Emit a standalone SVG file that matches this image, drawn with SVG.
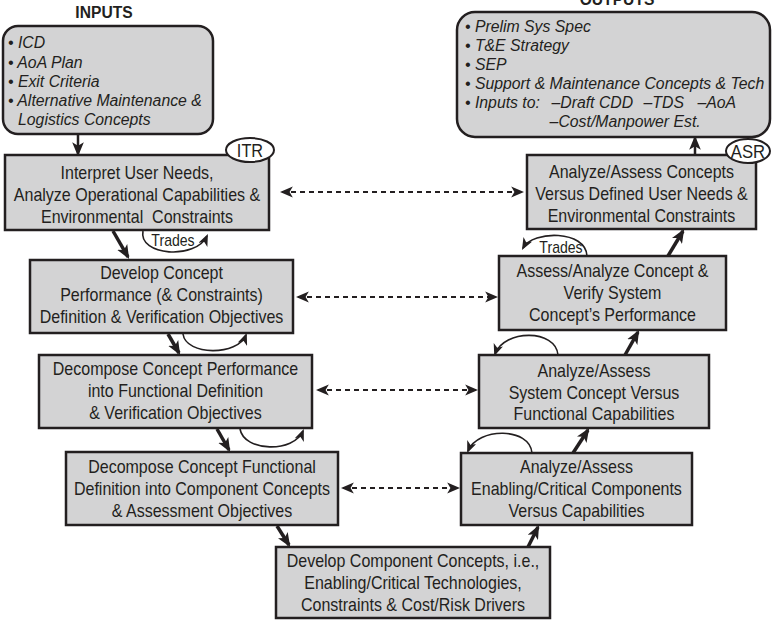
<svg xmlns="http://www.w3.org/2000/svg" width="772" height="621" viewBox="0 0 772 621">
<style>
.box{fill:#d3d3d4;stroke:#231f20;stroke-width:2.5}
.rbox{fill:#d3d3d4;stroke:#231f20;stroke-width:2.5}
.t{font-family:"Liberation Sans",Arial,sans-serif;font-size:18px;fill:#231f20;text-anchor:middle}
.it{font-family:"Liberation Sans",Arial,sans-serif;font-size:17px;font-style:italic;fill:#231f20}
.ttl{font-family:"Liberation Sans",Arial,sans-serif;font-size:17px;font-weight:bold;fill:#231f20;text-anchor:middle}
.sm{font-family:"Liberation Sans",Arial,sans-serif;font-size:16px;fill:#231f20;text-anchor:middle}
.lb{font-family:"Liberation Sans",Arial,sans-serif;font-size:19px;fill:#231f20;text-anchor:middle}
.thick{fill:none;stroke:#231f20;stroke-width:3.5;marker-end:url(#ah)}
.thin{fill:none;stroke:#231f20;stroke-width:1.6;marker-end:url(#ahs)}
.dash{fill:none;stroke:#231f20;stroke-width:2;stroke-dasharray:5 4;marker-start:url(#ahst);marker-end:url(#ahd)}
.ell{fill:#fff;stroke:#231f20;stroke-width:2}
</style>
<defs>
<marker id="ah" markerUnits="userSpaceOnUse" markerWidth="14" markerHeight="12" refX="10" refY="5" orient="auto" viewBox="0 0 12 10">
<path d="M0,0 L12,5 L0,10 L3,5 z" fill="#231f20"/>
</marker>
<marker id="ahs" markerUnits="userSpaceOnUse" markerWidth="12" markerHeight="10" refX="9" refY="4.5" orient="auto" viewBox="0 0 11 9">
<path d="M0,0 L11,4.5 L0,9 L3,4.5 z" fill="#231f20"/>
</marker>
<marker id="ahd" markerUnits="userSpaceOnUse" markerWidth="13" markerHeight="12" refX="10" refY="5" orient="auto" viewBox="0 0 12 10">
<path d="M0,0 L12,5 L0,10 L3,5 z" fill="#231f20"/>
</marker>
<marker id="ahst" markerUnits="userSpaceOnUse" markerWidth="13" markerHeight="12" refX="2" refY="5" orient="auto" viewBox="0 0 12 10">
<path d="M12,0 L0,5 L12,10 L9,5 z" fill="#231f20"/>
</marker>
</defs>

<g id="inputs">
<text class="ttl" transform="translate(104,0) scale(0.92,1)" x="0" y="18">INPUTS</text>
<rect class="rbox" x="3" y="26" width="210" height="108" rx="15"/>
<g class="it" transform="translate(8,0) scale(0.93,1)">
<text x="0" y="48">• ICD</text>
<text x="0" y="68">• AoA Plan</text>
<text x="0" y="87">• Exit Criteria</text>
<text x="0" y="106">• Alternative Maintenance &amp;</text>
<text x="10.8" y="125">Logistics Concepts</text>
</g>
</g>

<g id="outputs">
<text class="ttl" transform="translate(617,0) scale(0.92,1)" x="0" y="5">OUTPUTS</text>
<rect class="rbox" x="457" y="12" width="313" height="125" rx="18"/>
<g class="it" transform="translate(465,0) scale(0.93,1)">
<text x="0" y="32">• Prelim Sys Spec</text>
<text x="0" y="51">• T&amp;E Strategy</text>
<text x="0" y="70">• SEP</text>
<text x="0" y="89">• Support &amp; Maintenance Concepts &amp; Tech</text>
<text y="108"><tspan x="0">• Inputs to:</tspan><tspan x="93">–Draft CDD</tspan><tspan x="192">–TDS</tspan><tspan x="250">–AoA</tspan></text>
<text x="91" y="127">–Cost/Manpower Est.</text>
</g>
</g>

<g id="box1">
<rect class="box" x="5" y="155" width="264" height="75"/>
<g class="t" transform="translate(137,0) scale(0.89,1)">
<text x="0" y="179">Interpret User Needs,</text>
<text x="0" y="201">Analyze Operational Capabilities &amp;</text>
<text x="0" y="223" xml:space="preserve">Environmental  Constraints</text>
</g>
</g>
<g id="itr">
<ellipse class="ell" cx="250" cy="150" rx="24" ry="12"/>
<text class="lb" transform="translate(250,0) scale(0.86,1)" x="0" y="157">ITR</text>
</g>

<g id="box2">
<rect class="box" x="30" y="260" width="263" height="73"/>
<g class="t" transform="translate(161.5,0) scale(0.89,1)">
<text x="0" y="279">Develop Concept</text>
<text x="0" y="301">Performance (&amp; Constraints)</text>
<text x="0" y="323">Definition &amp; Verification Objectives</text>
</g>
</g>

<g id="box3">
<rect class="box" x="39" y="355" width="273" height="73"/>
<g class="t" transform="translate(175.5,0) scale(0.89,1)">
<text x="0" y="375">Decompose Concept Performance</text>
<text x="0" y="397">into Functional Definition</text>
<text x="0" y="419">&amp; Verification Objectives</text>
</g>
</g>

<g id="box4">
<rect class="box" x="66" y="452" width="272" height="73"/>
<g class="t" transform="translate(202,0) scale(0.89,1)">
<text x="0" y="473">Decompose Concept Functional</text>
<text x="0" y="495">Definition into Component Concepts</text>
<text x="0" y="517">&amp; Assessment Objectives</text>
</g>
</g>

<g id="box5">
<rect class="box" x="276" y="547" width="274" height="71"/>
<g class="t" transform="translate(413,0) scale(0.89,1)">
<text x="0" y="567">Develop Component Concepts, i.e.,</text>
<text x="0" y="589">Enabling/Critical Technologies,</text>
<text x="0" y="611">Constraints &amp; Cost/Risk Drivers</text>
</g>
</g>

<g id="rbox1">
<rect class="box" x="527" y="155" width="229" height="74"/>
<g class="t" transform="translate(641.5,0) scale(0.89,1)">
<text x="0" y="178">Analyze/Assess Concepts</text>
<text x="0" y="200">Versus Defined User Needs &amp;</text>
<text x="0" y="222">Environmental Constraints</text>
</g>
</g>
<g id="asr">
<ellipse class="ell" cx="748" cy="151" rx="22" ry="12"/>
<text class="lb" transform="translate(748,0) scale(0.88,1)" x="0" y="158">ASR</text>
</g>

<g id="rbox2">
<rect class="box" x="499" y="256" width="227" height="74"/>
<g class="t" transform="translate(612.5,0) scale(0.89,1)">
<text x="0" y="277">Assess/Analyze Concept &amp;</text>
<text x="0" y="299">Verify System</text>
<text x="0" y="321">Concept’s Performance</text>
</g>
</g>

<g id="rbox3">
<rect class="box" x="479" y="355" width="230" height="73"/>
<g class="t" transform="translate(594,0) scale(0.89,1)">
<text x="0" y="377">Analyze/Assess</text>
<text x="0" y="399">System Concept Versus</text>
<text x="0" y="420">Functional Capabilities</text>
</g>
</g>

<g id="rbox4">
<rect class="box" x="461" y="453" width="231" height="72"/>
<g class="t" transform="translate(576.5,0) scale(0.89,1)">
<text x="0" y="473">Analyze/Assess</text>
<text x="0" y="495">Enabling/Critical Components</text>
<text x="0" y="517">Versus Capabilities</text>
</g>
</g>

<g id="connectors">
<path class="thick" style="stroke-width:2.5" d="M78,135 L78,154"/>
<path class="thick" d="M113,231 L128,257"/>
<path class="thick" d="M168,334 L179,353"/>
<path class="thick" d="M217,429 L229,450"/>
<path class="thick" d="M277,526 L289,545"/>
<path class="thick" d="M528,547 L538,527"/>
<path class="thick" d="M573,453 L588,430"/>
<path class="thick" d="M625,355 L638,332"/>
<path class="thick" d="M668,256 L683,231"/>
<path class="thick" style="stroke-width:2.5" d="M695,155 L695,138"/>

<path class="thin" d="M143,231 C138,256 196,260 207,236"/>
<path class="thin" d="M183,334 C186,356 238,356 246,335"/>
<path class="thin" d="M240,429 C244,452 294,453 303,431"/>
<path class="thin" d="M587,256 C586,230 533,230 523,248"/>
<path class="thin" d="M558,355 C556,329 504,329 495,354"/>
<path class="thin" d="M532,453 C530,427 478,427 468,451"/>

<path class="dash" d="M282,192 L522,192"/>
<path class="dash" d="M298,297 L496,297"/>
<path class="dash" d="M318,390 L476,390"/>
<path class="dash" d="M343,488 L458,488"/>

<text class="sm" transform="translate(173,0) scale(0.88,1)" x="0" y="246">Trades</text>
<text class="sm" transform="translate(561,0) scale(0.88,1)" x="0" y="253">Trades</text>
</g>
</svg>
